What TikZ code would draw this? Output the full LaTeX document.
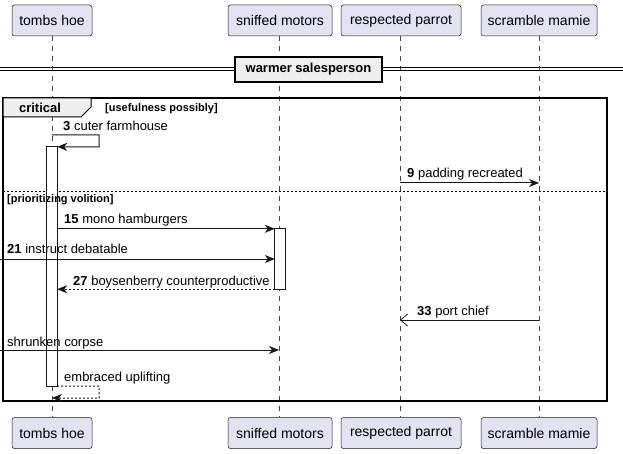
\documentclass[tikz,border=0pt]{standalone}
\usepackage{fontspec}
\setmainfont{Liberation Sans}
\usetikzlibrary{arrows.meta}
\definecolor{partfill}{HTML}{E2E2F0}
\definecolor{partline}{HTML}{181818}
\definecolor{grpfill}{HTML}{EEEEEE}
\begin{document}
\begin{tikzpicture}[x=1pt,y=-1pt,
  part/.style={draw=partline, line width=0.5pt, fill=partfill, rounded corners=2.5pt,
    minimum height=31pt, inner sep=0pt, font=\fontsize{14}{16}\selectfont},
  life/.style={draw=partline!80, line width=0.5pt, dash pattern=on 5pt off 5pt},
  msg/.style={draw=partline, line width=1pt, -{Stealth[length=10pt,width=8pt,inset=3pt]}},
  rmsg/.style={msg, dash pattern=on 2pt off 2pt},
  openmsg/.style={draw=partline, line width=1pt, -{Straight Barb[length=7pt,width=12pt,line width=0.8pt]}},
  lbl/.style={anchor=base west, inner sep=0pt, font=\fontsize{13}{15}\selectfont},
  act/.style={fill=white, inner sep=0pt},
  grd/.style={anchor=base west, inner sep=0pt, font=\fontsize{11}{13}\selectfont\bfseries},
]
\useasboundingbox (0,0) rectangle (623,454);

% participants
\node[part, minimum width=80pt]  (t1) at (52,20.5)  {tombs hoe};
\node[part, minimum width=104pt] (s1) at (280,20.5) {sniffed motors};
\node[part, minimum width=120pt] (r1) at (401,20.5) {respected parrot};
\node[part, minimum width=116pt] (m1) at (539,20.5) {scramble mamie};
\node[part, minimum width=80pt]  (t2) at (52,433)   {tombs hoe};
\node[part, minimum width=104pt] (s2) at (280,433)  {sniffed motors};
\node[part, minimum width=120pt] (r2) at (401,433)  {respected parrot};
\node[part, minimum width=116pt] (m2) at (539,433)  {scramble mamie};

% lifelines
\coordinate (tl) at (52,36);  \coordinate (tb) at (52,417);
\coordinate (sl) at (279,36); \coordinate (sb) at (279,417);
\coordinate (rl) at (400,36); \coordinate (rb) at (400,417);
\coordinate (ml) at (539,36); \coordinate (mb) at (539,417);
\draw[life] (tl) -- (tb);
\draw[life] (sl) -- (sb);
\draw[life] (rl) -- (rb);
\draw[life] (ml) -- (mb);

% divider
\draw[line width=1pt] (0,68) -- (623,68);
\draw[line width=1pt] (0,71) -- (623,71);
\node[draw=black, line width=1.5pt, fill=grpfill, minimum width=147pt, minimum height=25pt,
  inner sep=0pt, font=\fontsize{13}{15}\selectfont\bfseries] (div) at (308.5,69.5) {warmer salesperson};

% frame
\draw[line width=1.5pt, draw=black] (3,98) rectangle (607,401);
\draw[line width=1pt, fill=grpfill] (3,98) -- (91,98) -- (91,107) -- (81,117) -- (3,117) -- cycle;
\node[inner sep=0pt, font=\fontsize{13}{15}\selectfont\bfseries] (crit) at (40,108) {critical};
\node[grd] (g1) at (105,112) {[usefulness possibly]};
\draw[line width=1pt, dash pattern=on 2pt off 2pt] (3,192) -- (607,192);

% activations (fill)
\node[act, minimum width=10pt, minimum height=239pt] (a1) at (52,266.5) {};
\node[act, minimum width=10pt, minimum height=60pt] (a2) at (280,259) {};

\node[grd] (g2) at (7,203) {[prioritizing volition]};

% message 3
\node[lbl] (l3) at (63,131) {\textbf{3} cuter farmhouse};
\draw[msg] (52,135) -- (99,135) -- (99,147) -- (a1.north east);

% message 9
\coordinate (p9a) at (400,183); \coordinate (p9b) at (539,183);
\node[lbl] (l9) at (407,178) {\textbf{9} padding recreated};
\draw[msg] (p9a) -- (p9b);

% message 15
\node[lbl] (l15) at (64,224) {\textbf{15} mono hamburgers};
\draw[msg] (a1.east |- a2.north) -- (a2.north west);

% message 21
\coordinate (p21) at (0,259);
\node[lbl] (l21) at (7,254) {\textbf{21} instruct debatable};
\draw[msg] (p21) -- (a2.west);

% message 27
\node[lbl] (l27) at (73,285) {\textbf{27} boysenberry counterproductive};
\draw[rmsg] (a2.south west) -- (a1.east |- a2.south);

% message 33
\coordinate (p33a) at (539,320); \coordinate (p33b) at (400,320);
\node[lbl] (l33) at (417,315) {\textbf{33} port chief};
\draw[openmsg] (p33a) -- (p33b);

% shrunken corpse
\coordinate (p41) at (0,350); \coordinate (p41b) at (279,350);
\node[lbl] (l41) at (7,346) {shrunken corpse};
\draw[msg] (p41) -- (p41b);

% embraced uplifting
\node[lbl] (l42) at (64,381) {embraced uplifting};
\draw[rmsg] (a1.south east) -- (99,386) -- (99,398) -- (52,398);

% activation outlines over text
\draw[draw=partline, line width=1pt] (a1.north west) rectangle (a1.south east);
\draw[draw=partline, line width=1pt] (a2.north west) rectangle (a2.south east);
\end{tikzpicture}
\end{document}
